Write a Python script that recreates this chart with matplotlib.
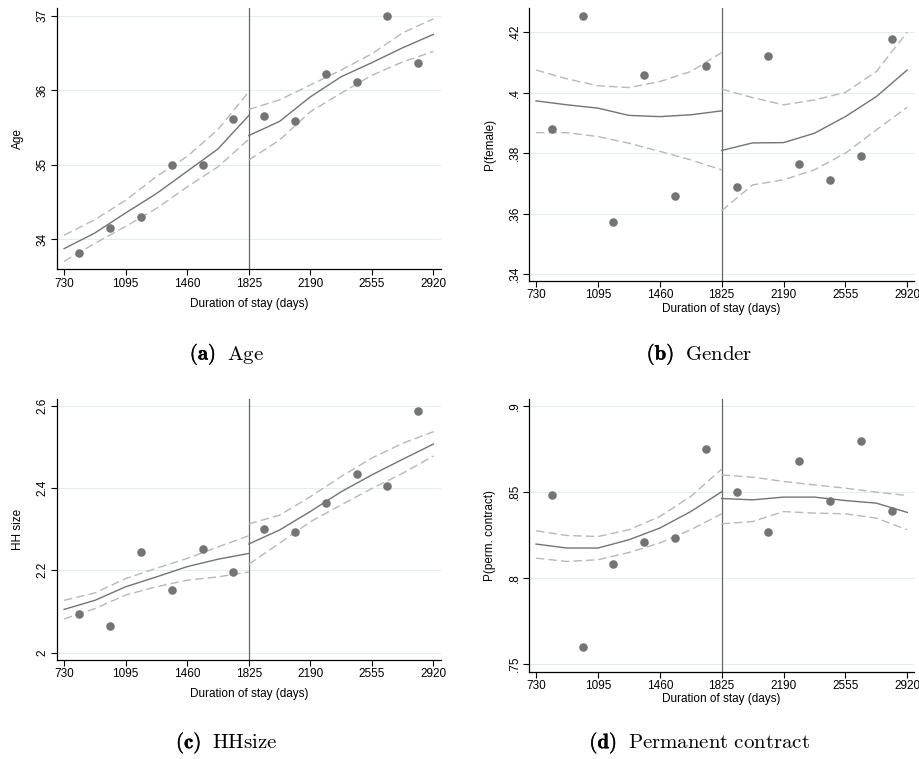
import matplotlib.pyplot as plt
import matplotlib.patheffects as pe
from matplotlib.offsetbox import TextArea, HPacker, AnnotationBbox

plt.rcParams['font.family'] = ['Liberation Sans', 'DejaVu Sans']
plt.rcParams['mathtext.fontset'] = 'cm'

# bin centres (days) for the scatter points
bins = [821, 1004, 1186, 1369, 1551, 1734, 1916, 2099, 2281, 2464, 2646, 2829]
# x grid of fitted lines, left and right of the cutoff
left_x = [730, 912.5, 1095, 1277.5, 1460, 1642.5, 1825]
right_x = [1825, 2007.5, 2190, 2372.5, 2555, 2737.5, 2920]

# (a) Age
age_pts = [33.81, 34.15, 34.29, 34.99, 35.00, 35.61, 35.65, 35.58, 36.22, 36.11, 37.00, 36.37]
age_fit_l = [33.87, 34.08, 34.35, 34.61, 34.91, 35.21, 35.66]
age_hi_l = [34.05, 34.26, 34.52, 34.84, 35.11, 35.47, 35.98]
age_lo_l = [33.70, 33.94, 34.17, 34.41, 34.70, 34.97, 35.34]
age_fit_r = [35.39, 35.58, 35.91, 36.18, 36.37, 36.57, 36.75]
age_hi_r = [35.74, 35.87, 36.07, 36.27, 36.49, 36.77, 36.96]
age_lo_r = [35.06, 35.33, 35.71, 35.96, 36.20, 36.38, 36.52]

# (b) Gender
fem_pts = [.3880, .4255, .3574, .4059, .3660, .4088, .3687, .4121, .3764, .3712, .3792, .4177]
fem_fit_l = [.3973, .3960, .3949, .3925, .3921, .3927, .3940]
fem_hi_l = [.4075, .4046, .4023, .4017, .4037, .4070, .4133]
fem_lo_l = [.3868, .3868, .3855, .3833, .3806, .3778, .3745]
fem_fit_r = [.3809, .3834, .3835, .3866, .3921, .3987, .4075]
fem_hi_r = [.4012, .3984, .3960, .3976, .4001, .4070, .4200]
fem_lo_r = [.3610, .3695, .3712, .3745, .3800, .3877, .3952]

# (c) HH size
hh_pts = [2.095, 2.064, 2.245, 2.151, 2.251, 2.197, 2.300, 2.292, 2.363, 2.434, 2.406, 2.587]
hh_fit_l = [2.105, 2.127, 2.160, 2.184, 2.209, 2.227, 2.241]
hh_hi_l = [2.127, 2.145, 2.180, 2.205, 2.229, 2.257, 2.284]
hh_lo_l = [2.082, 2.107, 2.140, 2.160, 2.176, 2.184, 2.196]
hh_fit_r = [2.264, 2.298, 2.343, 2.391, 2.432, 2.470, 2.507]
hh_hi_r = [2.313, 2.334, 2.379, 2.428, 2.473, 2.509, 2.537]
hh_lo_r = [2.215, 2.266, 2.318, 2.359, 2.399, 2.436, 2.478]

# (d) Permanent contract
perm_pts = [.8481, .7597, .8083, .8208, .8232, .8752, .8499, .8268, .8679, .8446, .8797, .8388]
perm_fit_l = [.8197, .8174, .8174, .8222, .8290, .8386, .8501]
perm_hi_l = [.8274, .8247, .8241, .8280, .8357, .8474, .8632]
perm_lo_l = [.8115, .8096, .8106, .8148, .8203, .8280, .8373]
perm_fit_r = [.8462, .8454, .8470, .8470, .8450, .8435, .8381]
perm_hi_r = [.8599, .8586, .8561, .8541, .8522, .8499, .8479]
perm_lo_r = [.8315, .8328, .8386, .8377, .8373, .8348, .8280]

xticks = [730, 1095, 1460, 1825, 2190, 2555, 2920]

panels = [
    # rect, ylabel, yticks, ticklabels, ylim, pts, lines, caption tag, caption text, caption y, xlabel pad
    ([0.062, 0.645, 0.417, 0.344], 'Age', [34, 35, 36, 37], ['34', '35', '36', '37'], (33.59, 37.10),
     age_pts, (age_fit_l, age_hi_l, age_lo_l, age_fit_r, age_hi_r, age_lo_r),
     '(a)', r'$\mathrm{Age}$', 0.517, 6),
    ([0.575, 0.630, 0.419, 0.359], 'P(female)', [.34, .36, .38, .40, .42], ['.34', '.36', '.38', '.4', '.42'],
     (0.3378, 0.4279), fem_pts, (fem_fit_l, fem_hi_l, fem_lo_l, fem_fit_r, fem_hi_r, fem_lo_r),
     '(b)', r'$\mathrm{Gender}$', 0.517, 1),
    ([0.062, 0.131, 0.417, 0.343], 'HH size', [2.0, 2.2, 2.4, 2.6], ['2', '2.2', '2.4', '2.6'], (1.983, 2.616),
     hh_pts, (hh_fit_l, hh_hi_l, hh_lo_l, hh_fit_r, hh_hi_r, hh_lo_r),
     '(c)', r'$\mathrm{HHsize}$', 0.005, 6),
    ([0.575, 0.115, 0.419, 0.359], 'P(perm. contract)', [.75, .80, .85, .90], ['.75', '.8', '.85', '.9'],
     (0.7455, 0.9039), perm_pts, (perm_fit_l, perm_hi_l, perm_lo_l, perm_fit_r, perm_hi_r, perm_lo_r),
     '(d)', r'$\mathrm{Permanent\ contract}$', 0.005, 1),
]

fig = plt.figure(figsize=(9.2, 7.59), dpi=100)

for rect, ylab, yt, ytl, ylim, pts, lines, tag, cap, cap_y, xpad in panels:
    ax = fig.add_axes(rect)
    ax.set_xlim(688, 2963)
    ax.set_ylim(*ylim)
    for v in yt:
        ax.axhline(v, color='#e4eef1', lw=0.8, zorder=0)
    ax.axvline(1825, color='#666666', lw=0.9, zorder=1)
    fl, hl, ll, fr, hr, lr = lines
    ax.plot(left_x, fl, color='#737373', lw=1.0, zorder=2)
    ax.plot(left_x, hl, color='#b8b8b8', lw=1.0, ls=(0, (6, 3)), zorder=2)
    ax.plot(left_x, ll, color='#b8b8b8', lw=1.0, ls=(0, (6, 3)), zorder=2)
    ax.plot(right_x, fr, color='#737373', lw=1.0, zorder=2)
    ax.plot(right_x, hr, color='#b8b8b8', lw=1.0, ls=(0, (6, 3)), zorder=2)
    ax.plot(right_x, lr, color='#b8b8b8', lw=1.0, ls=(0, (6, 3)), zorder=2)
    ax.scatter(bins, pts, s=38, color='#747474', zorder=3, linewidths=0)

    ax.set_xticks(xticks)
    ax.set_xticklabels([str(t) for t in xticks], fontsize=8.5)
    ax.set_yticks(yt)
    ax.set_yticklabels(ytl, fontsize=8.5, rotation=90, va='center')
    ax.tick_params(length=4, width=0.8, pad=2)
    for s in ['top', 'right']:
        ax.spines[s].set_visible(False)
    for s in ['left', 'bottom']:
        ax.spines[s].set_linewidth(0.9)
    ax.set_ylabel(ylab, fontsize=8.5, labelpad=9)
    ax.set_xlabel('Duration of stay (days)', fontsize=8.5, labelpad=xpad)

    # caption: bold tag + roman text, centred under the subfigure
    bold = TextArea(r'$\mathbf{' + tag + '}$',
                    textprops=dict(size=15, path_effects=[pe.withStroke(linewidth=0.3, foreground='black')]))
    rest = TextArea(cap, textprops=dict(size=15))
    box = HPacker(children=[bold, rest], sep=8, align='baseline', pad=0)
    ab = AnnotationBbox(box, (rect[0] + rect[2] / 2 - 0.024, cap_y), xycoords='figure fraction',
                        box_alignment=(0.5, 0.0), frameon=False)
    fig.add_artist(ab)

fig.savefig('out.png', dpi=100)
